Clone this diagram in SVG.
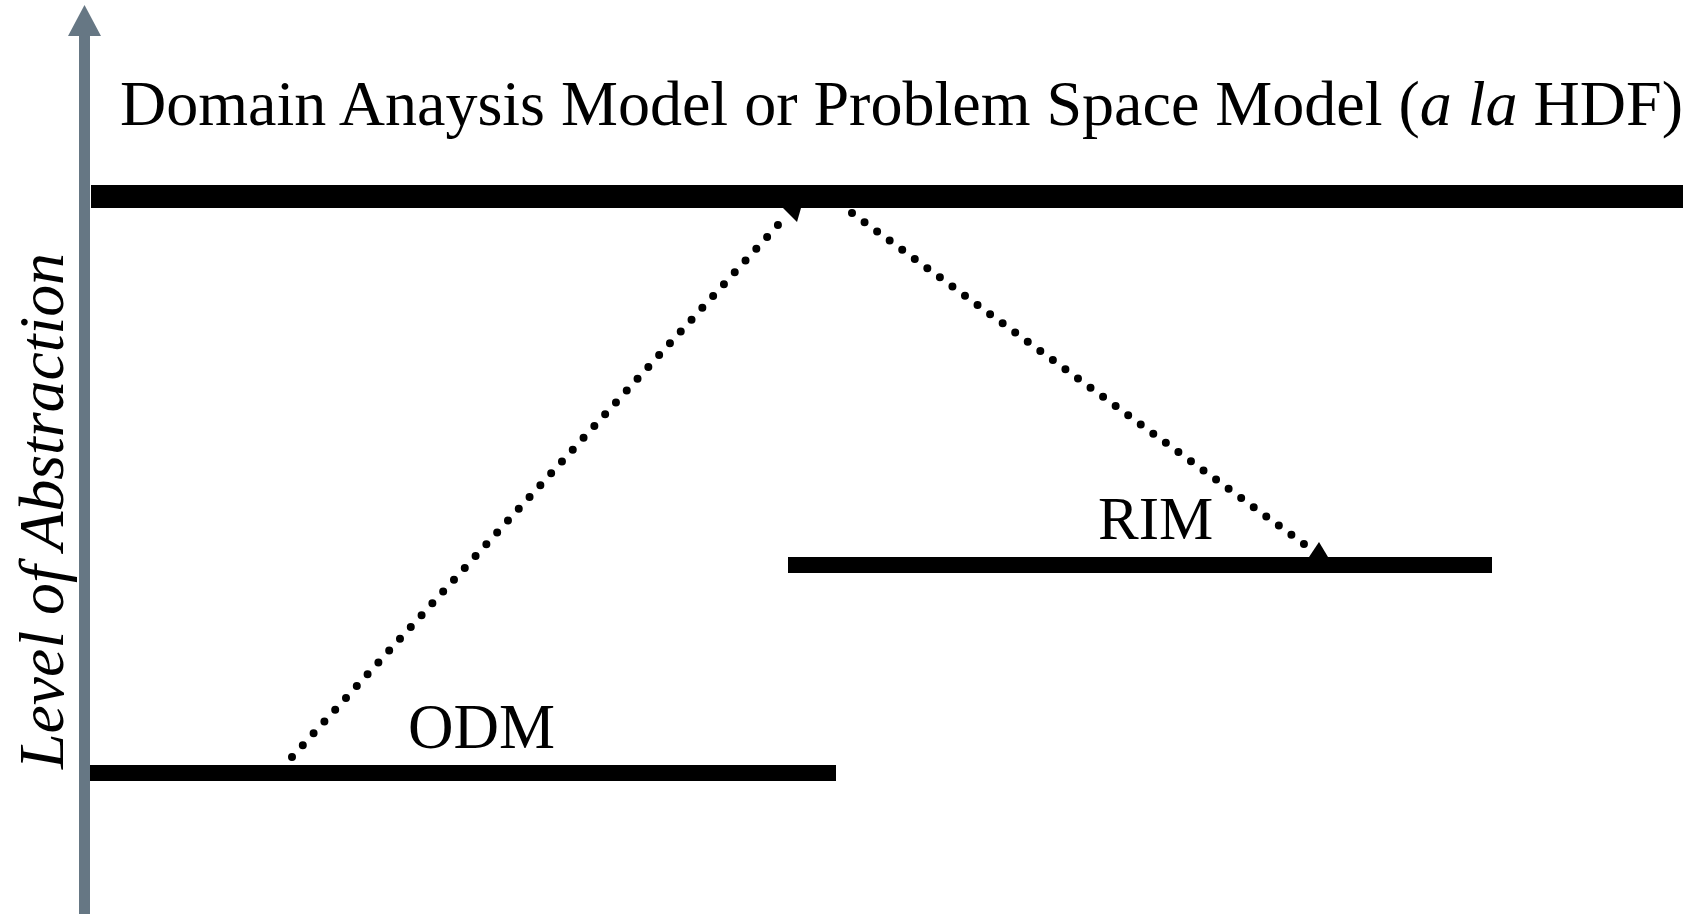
<svg xmlns="http://www.w3.org/2000/svg" width="1703" height="914" viewBox="0 0 1703 914">
<style>
.t{font-family:"Liberation Serif","Times New Roman",serif;fill:#000}
.bar{stroke:#000;stroke-width:16;fill:none}
.dot{stroke:#000;stroke-width:8;stroke-linecap:round;fill:none}
.ax{fill:#667784}
</style>
<rect width="1703" height="914" fill="#fff"/>
<g id="axis">
<rect class="ax" x="79" y="34" width="11" height="880"/>
<polygon class="ax" points="84.5,5 101,36 68,36"/>
</g>
<g id="axis-label">
<text class="t" font-style="italic" font-size="64" textLength="516" lengthAdjust="spacingAndGlyphs" transform="translate(63,769) rotate(-90)">Level of Abstraction</text>
</g>
<g id="domain-model">
<rect x="91" y="185" width="1592" height="23" fill="#000"/>
<text class="t" x="120" y="125" font-size="63" textLength="1563" lengthAdjust="spacingAndGlyphs">Domain Anaysis Model or Problem Space Model (<tspan font-style="italic">a la</tspan> HDF)</text>
</g>
<g id="rim">
<rect x="788" y="557" width="704" height="16" fill="#000"/>
<text class="t" x="1098" y="539" font-size="61">RIM</text>
</g>
<g id="odm">
<rect x="90" y="765" width="746" height="16" fill="#000"/>
<text class="t" x="408" y="748" font-size="63">ODM</text>
</g>
<g id="connectors">
<path class="dot" d="M292,757 L778,225" stroke-dasharray="0 16.01"/>
<polygon points="783,208 801,208 797,222 789,214" fill="#000"/>
<path class="dot" d="M852,213 L1304,544" stroke-dasharray="0 15.56"/>
<polygon points="1319,542 1328,557 1309,557" fill="#000"/>
</g>
</svg>
